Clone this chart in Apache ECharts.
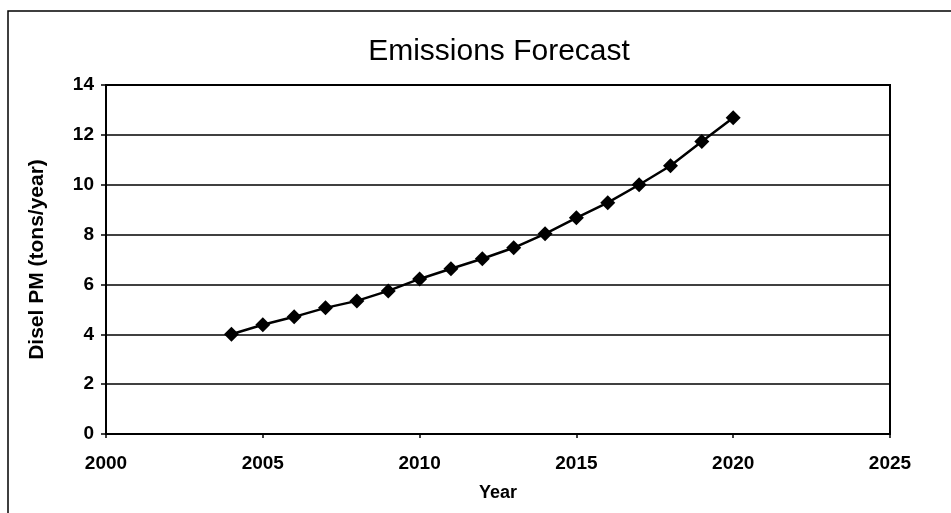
<!DOCTYPE html>
<html>
<head>
<meta charset="utf-8">
<script src="https://cdn.jsdelivr.net/npm/echarts@6/dist/echarts.min.js"></script>
<style>
  html, body { margin: 0; padding: 0; background: #fff; }
  #chart { width: 951px; height: 513px; }
</style>
</head>
<body>
<div id="chart"></div>
<script>
// Forecast years and diesel particulate matter emissions (tons/year)
const years = [2004, 2005, 2006, 2007, 2008, 2009, 2010, 2011, 2012, 2013, 2014, 2015, 2016, 2017, 2018, 2019, 2020];
const emissions = [4.0, 4.38, 4.7, 5.06, 5.34, 5.74, 6.22, 6.63, 7.03, 7.47, 8.03, 8.67, 9.28, 10.0, 10.76, 11.73, 12.69];

const chartTitle = 'Emissions Forecast';
const xName = 'Year';
const yName = 'Disel PM (tons/year)';

const font = '"Liberation Sans", Arial, sans-serif';

const chart = echarts.init(document.getElementById('chart'), null, { renderer: 'canvas' });

chart.setOption({
  backgroundColor: '#ffffff',
  animation: false,
  title: {
    text: chartTitle,
    left: 494,
    textAlign: 'center',
    top: 32,
    textStyle: { fontFamily: font, fontSize: 30, fontWeight: 'normal', color: '#000' }
  },
  graphic: [
    {
      type: 'rect',
      shape: { x: 8, y: 11, width: 950, height: 520 },
      style: { fill: 'none', stroke: '#000', lineWidth: 1.5 },
      silent: true
    }
  ],
  grid: {
    left: 106, right: 61, top: 85, bottom: 79,
    show: true, borderColor: '#000', borderWidth: 2, backgroundColor: 'transparent'
  },
  xAxis: {
    type: 'value',
    min: 2000, max: 2025, interval: 5,
    name: xName,
    nameLocation: 'middle',
    nameGap: 50,
    nameTextStyle: { fontFamily: font, fontSize: 18, fontWeight: 'bold', color: '#000' },
    axisLine: { show: true, onZero: false, lineStyle: { color: '#000', width: 2 } },
    axisTick: { show: true, inside: false, length: 4, lineStyle: { color: '#000', width: 1.5 } },
    axisLabel: {
      fontFamily: font, fontSize: 19, fontWeight: 'bold', color: '#000', margin: 20,
      formatter: v => String(v)
    },
    splitLine: { show: false }
  },
  yAxis: {
    type: 'value',
    min: 0, max: 14, interval: 2,
    name: yName,
    nameLocation: 'middle',
    nameGap: 58,
    nameRotate: 90,
    nameTextStyle: { fontFamily: font, fontSize: 21, fontWeight: 'bold', color: '#000' },
    axisLine: { show: true, lineStyle: { color: '#000', width: 2 } },
    axisTick: { show: true, inside: false, length: 5, lineStyle: { color: '#000', width: 1.5 } },
    axisLabel: { fontFamily: font, fontSize: 19, fontWeight: 'bold', color: '#000', margin: 12 },
    splitLine: { show: true, lineStyle: { color: '#000', width: 1.5 } }
  },
  series: [
    {
      type: 'line',
      data: years.map((y, i) => [y, emissions[i]]),
      symbol: 'diamond',
      symbolSize: 15,
      itemStyle: { color: '#000' },
      lineStyle: { color: '#000', width: 2.5 },
      smooth: false
    }
  ]
});
</script>
</body>
</html>
